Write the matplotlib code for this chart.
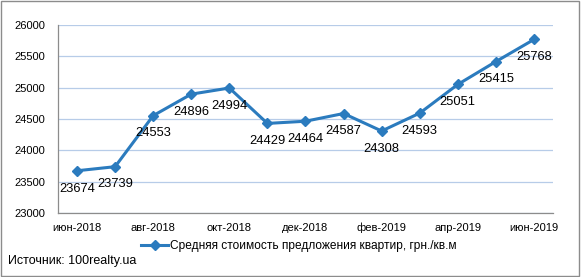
import matplotlib.pyplot as plt
from matplotlib.patches import Rectangle

plt.rcParams['font.family'] = ['Liberation Sans', 'DejaVu Sans']

months = ['июн-2018', 'июл-2018', 'авг-2018', 'сен-2018', 'окт-2018',
          'ноя-2018', 'дек-2018', 'янв-2019', 'фев-2019', 'мар-2019',
          'апр-2019', 'май-2019', 'июн-2019']
prices = [23674, 23739, 24553, 24896, 24994, 24429, 24464,
          24587, 24308, 24593, 25051, 25415, 25768]
series_name = 'Средняя стоимость предложения квартир, грн./кв.м'
source_text = 'Источник: 100realty.ua'

line_color = '#2B7BBE'
grid_color = '#B7CCE8'

fig = plt.figure(figsize=(5.81, 2.77), dpi=100)
ax = fig.add_axes([0.0998, 0.231, 0.852, 0.679])

x = list(range(len(months)))
ax.plot(x, prices, color=line_color, linewidth=2.2, marker='D',
        markersize=5.5, label=series_name, zorder=3)

# подписи значений под точками
for xi, val in zip(x, prices):
    ax.annotate(str(val), (xi, val), xytext=(0, -8.5), textcoords='offset points',
                ha='center', va='top', fontsize=9.3, color='black', zorder=4)

ax.set_xlim(-0.5, len(months) - 0.5)
ax.set_ylim(23000, 26000)
ax.set_yticks(range(23000, 26001, 500))
ax.set_xticks(x[::2])
ax.set_xticklabels(months[::2])
ax.tick_params(axis='both', length=0, labelsize=8, colors='black')
ax.tick_params(axis='y', pad=9)
ax.tick_params(axis='x', pad=7)

ax.grid(axis='y', color=grid_color, linewidth=0.9)
ax.set_axisbelow(True)
for side in ['top', 'right']:
    ax.spines[side].set_visible(False)
for side in ['left', 'bottom']:
    ax.spines[side].set_color('#8C8C8C')
    ax.spines[side].set_linewidth(0.9)

fig.legend(loc='center', bbox_to_anchor=(0.514, 0.112), frameon=False,
           fontsize=8.6, handlelength=2.3, handletextpad=0.1)
fig.text(0.014, 0.058, source_text, fontsize=9, ha='left', va='center')

fig.patches.append(Rectangle((0.002, 0.004), 0.995, 0.992, transform=fig.transFigure,
                             fill=False, edgecolor='#8C8C8C', linewidth=1))

fig.savefig('out.png', dpi=100)
